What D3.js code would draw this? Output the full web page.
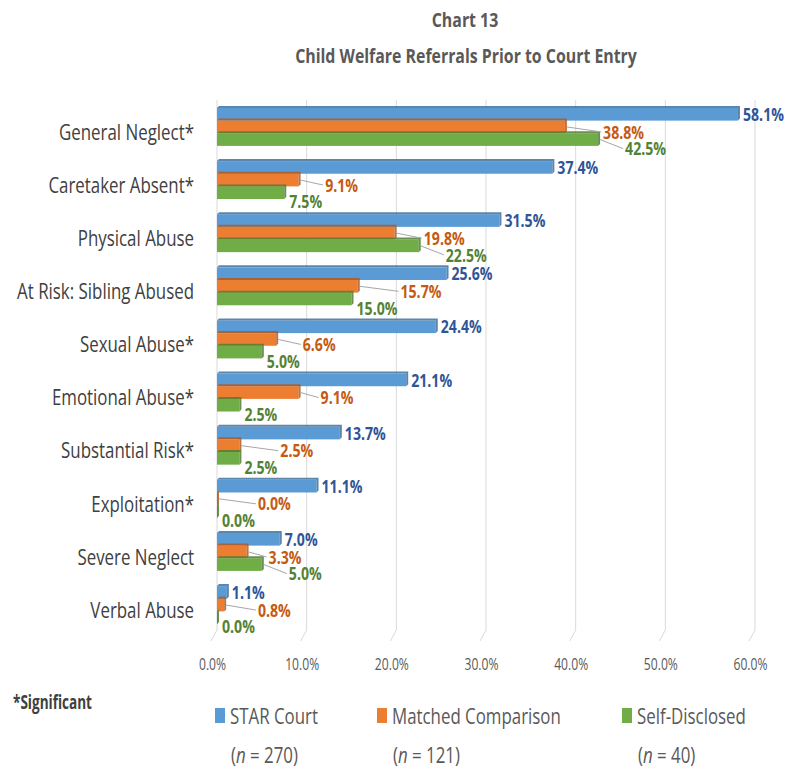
<!DOCTYPE html>
<html>
<head>
<meta charset="utf-8">
<script src="https://cdn.jsdelivr.net/npm/d3@7"></script>
<style>
  body { margin: 0; background: #fff; }
  svg text { font-family: "Open Sans", "Noto Sans", sans-serif; }
</style>
</head>
<body>
<script>
const width = 788;
const height = 769;

// data
const categories = ["General Neglect*", "Caretaker Absent*", "Physical Abuse", "At Risk: Sibling Abused",
  "Sexual Abuse*", "Emotional Abuse*", "Substantial Risk*", "Exploitation*", "Severe Neglect", "Verbal Abuse"];
const starCourt = [58.1, 37.4, 31.5, 25.6, 24.4, 21.1, 13.7, 11.1, 7.0, 1.1];
const matched   = [38.8, 9.1, 19.8, 15.7, 6.6, 9.1, 2.5, 0.0, 3.3, 0.8];
const selfDisc  = [42.5, 7.5, 22.5, 15.0, 5.0, 2.5, 2.5, 0.0, 5.0, 0.0];
const seriesNames = ["STAR Court", "Matched Comparison", "Self-Disclosed"];
const seriesN = ["270", "121", "40"];
const xTicks = [0, 10, 20, 30, 40, 50, 60];

const fill = ["#5B9BD5", "#ED7D31", "#70AD47"];
const edge = ["#41719C", "#AE5A21", "#507E32"];
const labelCol = ["#2F5597", "#C55A11", "#548235"];

const svg = d3.select("body").append("svg").attr("width", width).attr("height", height);

// text styles; the reference font is a narrow one so each style gets squeezed
// horizontally so that one sample string hits the width seen in the picture
const styles = {
  title: { size: 20, weight: "bold", fill: "#595959", sample: "Child Welfare Referrals Prior to Court Entry", w: 342 },
  cat:   { size: 21, weight: "normal", fill: "#404040", sample: "General Neglect*", w: 135 },
  val:   { size: 18, weight: "bold", fill: "#000", sample: "58.1%", w: 41 },
  tick:  { size: 16, weight: "normal", fill: "#595959", sample: "60.0%", w: 34 },
  leg:   { size: 22, weight: "normal", fill: "#595959", sample: "STAR Court", w: 88 },
  note:  { size: 19, weight: "bold", fill: "#404040", sample: "*Significant", w: 79 }
};
Object.values(styles).forEach(s => {
  const t = svg.append("text").attr("font-size", s.size).attr("font-weight", s.weight).text(s.sample);
  s.f = s.w / t.node().getComputedTextLength();
  t.remove();
});

function addText(parent, x, y, str, st, anchor) {
  const t = parent.append("text")
    .attr("transform", `translate(${x},${y}) scale(${st.f},1)`)
    .attr("font-size", st.size).attr("font-weight", st.weight).attr("fill", st.fill)
    .attr("text-anchor", anchor || "start").attr("dominant-baseline", "central");
  if (str !== null) t.text(str);
  return t;
}
const widthOf = (t, st) => t.node().getComputedTextLength() * st.f;

const x = d3.scaleLinear().domain([0, 60]).range([217, 755]);
const y = d3.scaleBand().domain(categories).range([100, 632]).paddingInner(0.286).paddingOuter(0.15);
const ySub = d3.scaleBand().domain([0, 1, 2]).range([0, y.bandwidth()]);

// titles
addText(svg, 465, 19, "Chart 13", styles.title, "middle");
addText(svg, 466, 55, "Child Welfare Referrals Prior to Court Entry", styles.title, "middle");

// gridlines with a little 3d floor slant
const grid = svg.append("g");
xTicks.forEach(t => {
  const gx = x(t);
  grid.append("path")
    .attr("d", `M${gx},100 L${gx},630 L${gx - 6},641`)
    .attr("fill", "none").attr("stroke", "#D9D9D9").attr("stroke-width", 1);
});

// x axis labels (built with an axis, then restyled)
const xAxis = d3.axisBottom(x).tickValues(xTicks).tickFormat(d => d.toFixed(1) + "%").tickSize(0).tickPadding(0);
const xg = svg.append("g").attr("transform", "translate(-5,664)").call(xAxis);
xg.select(".domain").remove();
xg.selectAll("text").attr("font-size", styles.tick.size).attr("fill", styles.tick.fill)
  .attr("dy", null).attr("y", null).attr("dominant-baseline", "central")
  .attr("transform", `scale(${styles.tick.f},1)`)
  .style("font-family", "'Open Sans', sans-serif");

// category labels
const catG = svg.append("g");
categories.forEach(c => addText(catG, 194, y(c) + y.bandwidth() / 2 + 5, c, styles.cat, "end"));

const series = [starCourt, matched, selfDisc];
const bars = svg.append("g");
const labels = svg.append("g");

categories.forEach((c, i) => {
  const vals = series.map(s => s[i]);
  vals.forEach((v, k) => {
    const y0 = y(c) + ySub(k);
    const h = ySub.bandwidth();
    const x0 = x(0), x1 = x(v);
    bars.append("rect").attr("x", x0).attr("y", y0).attr("width", Math.max(x1 - x0, 0.5)).attr("height", h)
      .attr("fill", fill[k]);
    // fake depth faces
    bars.append("path").attr("d", `M${x0},${y0} L${x0 + 2},${y0 - 2} L${x1 + 2},${y0 - 2} L${x1 + 2},${y0 + h - 2} L${x1},${y0 + h} L${x1},${y0} Z`)
      .attr("fill", edge[k]).attr("opacity", 0.85);
  });

  // label placement, roughly the way the spreadsheet nudged them
  const ends = vals.map(v => x(v) + 2);
  const cy = [0, 1, 2].map(k => y(c) + ySub(k) + ySub.bandwidth() / 2);
  const txt = vals.map((v, k) => {
    const t = addText(labels, 0, 0, v.toFixed(1) + "%", styles.val);
    t.attr("fill", labelCol[k]);
    return t;
  });
  const w = txt.map(t => widthOf(t, styles.val));
  const pos = [];
  pos[0] = { x: ends[0] + 3, y: cy[0] };
  if (vals[2] > vals[1]) {
    pos[1] = { x: Math.max(ends[1] + 20, ends[2] + 3), y: cy[1] + 5 };
    pos[2] = { x: ends[2] + 25, y: cy[2] + 9 };
  } else {
    pos[1] = { x: ends[1] + 20, y: cy[1] + 5 };
    pos[2] = { x: ends[2] + 3, y: cy[2] + 9 };
    if (pos[2].x + w[2] + 3 > pos[1].x) pos[1].x = pos[2].x + w[2] + 3;
  }
  vals.forEach((v, k) => {
    if (pos[k].x - ends[k] > 8) {
      labels.insert("line", "text").attr("x1", ends[k]).attr("y1", cy[k])
        .attr("x2", pos[k].x - 2).attr("y2", pos[k].y)
        .attr("stroke", "#A6A6A6").attr("stroke-width", 1);
    }
    txt[k].attr("transform", `translate(${pos[k].x},${pos[k].y}) scale(${styles.val.f},1)`);
  });
});

// footnote
addText(svg, 13, 702, "*Significant", styles.note);

// legend
const legendX = [215, 377, 622];
const leg = svg.append("g");
seriesNames.forEach((name, k) => {
  leg.append("rect").attr("x", legendX[k]).attr("y", 708).attr("width", 10).attr("height", 15).attr("fill", fill[k]);
  addText(leg, legendX[k] + 15, 716, name, styles.leg);
  const t = addText(leg, legendX[k] + 16, 754, null, styles.leg);
  t.append("tspan").text("(");
  t.append("tspan").attr("font-style", "italic").text("n");
  t.append("tspan").text(" = " + seriesN[k] + ")");
});
</script>
</body>
</html>
